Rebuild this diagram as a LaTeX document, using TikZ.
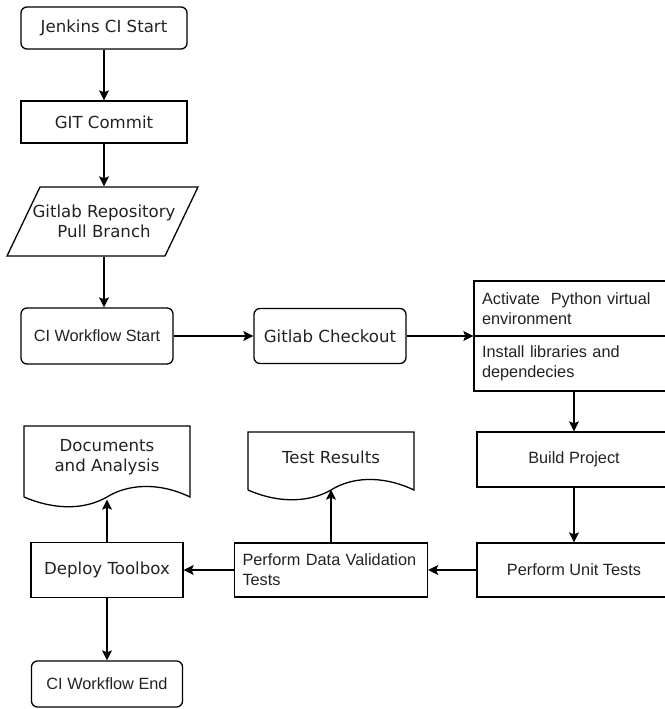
\documentclass[tikz,border=0pt]{standalone}
\usepackage{fontspec}
\setmainfont{Liberation Sans}
\newfontfamily\dejavu{DejaVu Sans}
\usetikzlibrary{arrows.meta}
\definecolor{txtgray}{HTML}{222222}

\begin{document}
\begin{tikzpicture}[x=1pt, y=-1pt, line width=1.3pt,
  base/.style={draw, inner sep=0pt, align=center, text=txtgray, font=\fontsize{16.3}{20}\selectfont},
  dvbox/.style={base, font=\dejavu\fontsize{16.6}{20}\selectfont},
  roundbox/.style={rounded corners=6pt},
  leftbox/.style={base, align=left, inner xsep=8pt, text width=#1},
  doctext/.style={align=center, inner sep=0pt, text=txtgray, font=\dejavu\fontsize{16.6}{20}\selectfont},
  flow/.style={-{Stealth[length=10pt, width=10pt, inset=2pt]}}]
\useasboundingbox (0,0) rectangle (664,709);

\node[dvbox, roundbox, minimum width=166, minimum height=42] (jenkins) at (104,28) {Jenkins CI Start};
\node[dvbox, minimum width=166, minimum height=42] (commit) at (104,122) {GIT Commit};
\node[doctext, minimum height=69] (repo) at (104,221.5) {Gitlab Repository\\Pull Branch};
\draw (7,256) -- (165,256) -- (198,187) -- (40,187) -- cycle;

\node[base, roundbox, minimum width=152, minimum height=56] (cistart) at (97,336) {CI Workflow Start};
\node[dvbox, roundbox, minimum width=152, minimum height=55] (checkout) at (330,336) {Gitlab Checkout};
\node[leftbox=181, minimum height=55] (activate) at (572.5,308.5) {Activate\ \ Python virtual\\environment};
\node[leftbox=181, minimum height=55] (install) at (572.5,363.5) {Install libraries and\\dependecies};

\node[base, minimum width=194, minimum height=55] (build) at (574,459.5) {Build Project};
\node[base, minimum width=194, minimum height=54] (unit) at (574,570) {Perform Unit Tests};
\node[leftbox=177, minimum height=54] (pdv) at (331,570) {Perform Data Validation\\Tests};
\node[dvbox, minimum width=152, minimum height=55] (deploy) at (107,570) {Deploy Toolbox};
\node[base, roundbox, minimum width=151, minimum height=46] (ciend) at (107,684) {CI Workflow End};

\node[doctext, minimum height=83] (docs) at (107,457.5) {Documents\\and Analysis};
\draw (24,497) -- (24,426) -- (190,426) -- (190,497)
  .. controls (157,481) and (126,485) .. (107,497)
  .. controls (86,509) and (57,511) .. (24,497);

\node[doctext, minimum height=64] (results) at (331,457) {Test Results};
\draw (248,490) -- (248,432) -- (414,432) -- (414,490)
  .. controls (380,474) and (350,478) .. (331,490)
  .. controls (310,502) and (280,504) .. (248,490);

\foreach \a/\b in {jenkins/commit, commit/repo, cistart/checkout, build/unit,
  unit/pdv, pdv/deploy, pdv/results, deploy/docs, deploy/ciend} {
  \draw[flow] (\a) -- (\b);
}
\draw[flow] (repo.south) -- (repo.south |- cistart.north);
\draw[flow] (checkout.east) -- (checkout.east -| activate.west);
\draw[flow] (build.north |- install.south) -- (build.north);

\end{tikzpicture}
\end{document}
